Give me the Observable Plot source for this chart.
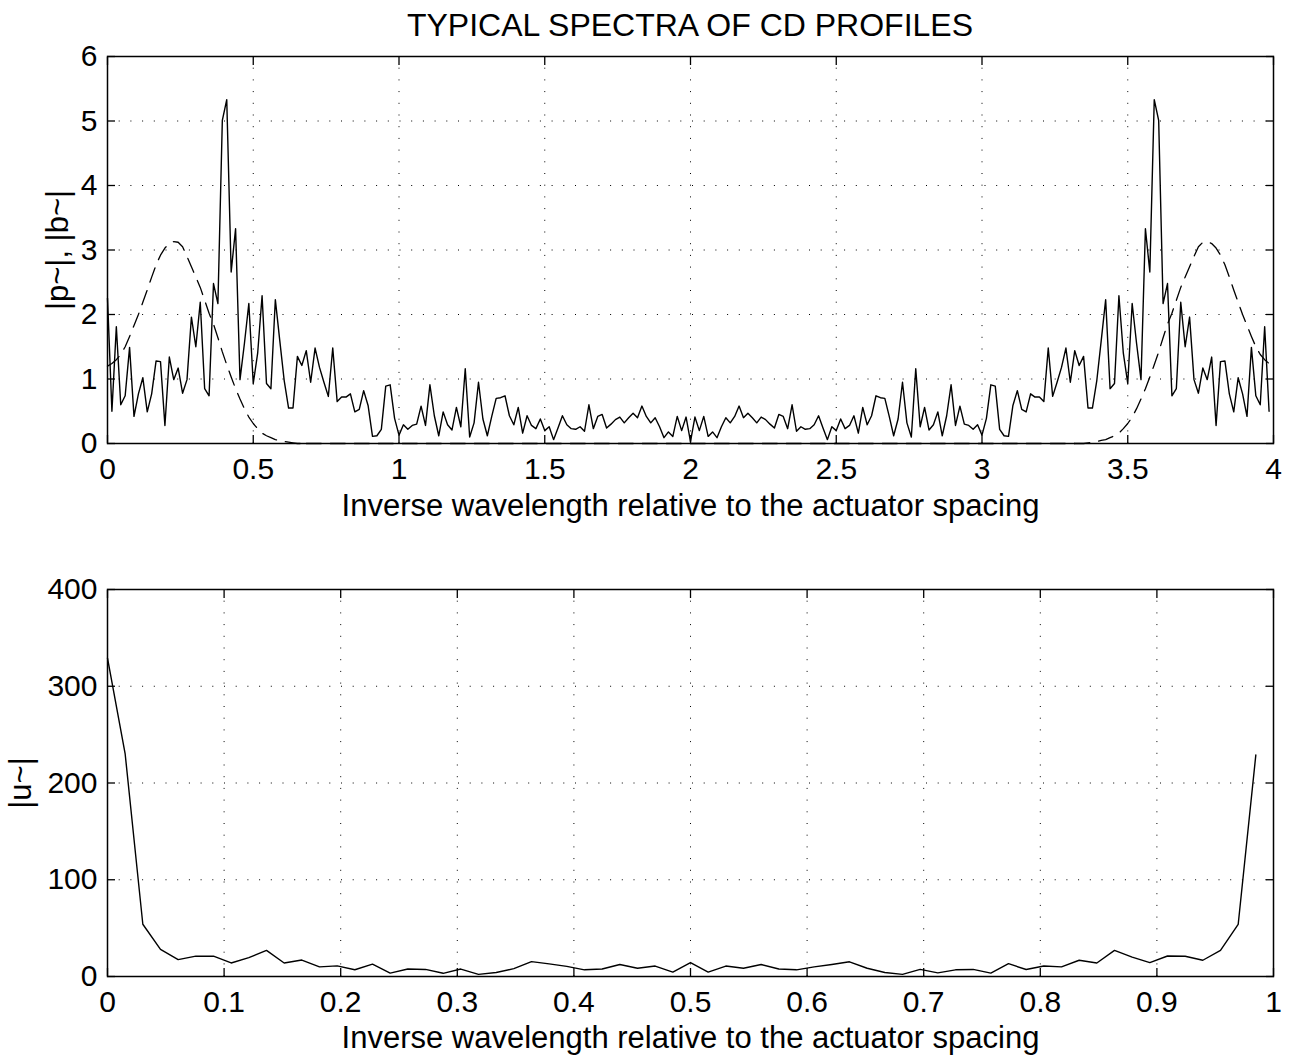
<!DOCTYPE html>
<html>
<head>
<meta charset="utf-8">
<script src="https://cdn.jsdelivr.net/npm/d3@7"></script>
<script src="https://cdn.jsdelivr.net/npm/@observablehq/plot@0.6"></script>
<style>
  html, body { margin: 0; padding: 0; background: #fff; }
  #chart { width: 1292px; height: 1057px; position: relative; background: #fff;
           font-family: "Liberation Sans", Arial, Helvetica, sans-serif; color: #000; }
  #title { height: 40px; line-height: 50px; padding-left: 107px; padding-right: 19px;
           text-align: center; font-size: 32px; white-space: nowrap; }
  svg { display: block; }
</style>
</head>
<body>
<div id="chart">
  <div id="title">TYPICAL SPECTRA OF CD PROFILES</div>
</div>
<script>
// ---- data ----
const titleText = "TYPICAL SPECTRA OF CD PROFILES";
const xLabel = "Inverse wavelength relative to the actuator spacing";
const yLabelTop = "|p~|, |b~|";
const yLabelBottom = "|u~|";

// sample spacing of the spectra (1/66 of the actuator spacing)
const freqStep = 1 / 66;

// |p~| : 264 samples, x = k * freqStep
const pSpectrum = [
 2.25,0.50,1.81,0.60,0.74,1.49,0.42,0.77,1.02,0.49,
 0.77,1.28,1.27,0.28,1.34,0.99,1.17,0.78,0.99,1.96,
 1.50,2.19,0.85,0.74,2.48,2.17,5.01,5.33,2.66,3.33,
 0.99,1.55,2.17,0.93,1.40,2.29,0.93,0.85,2.23,1.60,
 0.98,0.55,0.55,1.35,1.21,1.44,0.95,1.48,1.18,0.95,
 0.73,1.48,0.65,0.72,0.72,0.77,0.49,0.53,0.82,0.59,
 0.11,0.12,0.22,0.89,0.91,0.39,0.13,0.29,0.22,0.28,
 0.30,0.58,0.28,0.91,0.43,0.12,0.49,0.29,0.21,0.56,
 0.26,1.16,0.10,0.32,0.95,0.38,0.12,0.42,0.70,0.71,
 0.74,0.43,0.29,0.56,0.16,0.43,0.28,0.23,0.38,0.20,
 0.26,0.06,0.24,0.43,0.29,0.23,0.22,0.26,0.19,0.60,
 0.23,0.42,0.45,0.24,0.30,0.37,0.41,0.32,0.40,0.47,
 0.40,0.58,0.42,0.32,0.40,0.26,0.09,0.18,0.11,0.42,
 0.20,0.41,0.03,
 0.41,0.20,0.42,0.11,0.18,0.09,0.26,0.40,0.32,0.42,
 0.58,0.40,0.47,0.40,0.32,0.41,0.37,0.30,0.24,0.45,
 0.42,0.23,0.60,0.19,0.26,0.22,0.23,0.29,0.43,0.24,
 0.06,0.26,0.20,0.38,0.23,0.28,0.43,0.16,0.56,0.29,
 0.43,0.74,0.71,0.70,0.42,0.12,0.38,0.95,0.32,0.10,
 1.16,0.26,0.56,0.21,0.29,0.49,0.12,0.43,0.91,0.28,
 0.58,0.30,0.28,0.22,0.29,0.13,0.39,0.91,0.89,0.22,
 0.12,0.11,0.59,0.82,0.53,0.49,0.77,0.72,0.72,0.65,
 1.48,0.73,0.95,1.18,1.48,0.95,1.44,1.21,1.35,0.55,
 0.55,0.98,1.60,2.23,0.85,0.93,2.29,1.40,0.93,2.17,
 1.55,0.99,3.33,2.66,5.33,5.01,2.17,2.48,0.74,0.85,
 2.19,1.50,1.96,0.99,0.78,1.17,0.99,1.34,0.28,1.27,
 1.28,0.77,0.49,1.02,0.77,0.42,1.49,0.74,0.60,1.81,0.50
];

// |b~| (dashed): left lobe, samples k = 0..45
const bLeftStart = 0;
const bLeft = [
 1.20,1.24,1.30,1.38,1.50,1.66,1.83,2.00,2.19,2.38,
 2.58,2.77,2.92,3.03,3.10,3.13,3.12,3.05,2.90,2.74,
 2.58,2.42,2.22,2.02,1.85,1.64,1.42,1.22,1.03,0.85,
 0.69,0.54,0.41,0.31,0.23,0.16,0.12,0.09,0.06,0.05,
 0.03,0.02,0.01,0,0,0
];
// |b~| zero stretch between the lobes, samples k = 45..219
const bMidStart = 45;
const bMid = [0, 0];
const bMidEnd = 219;
// |b~| right lobe, samples k = 219..263
const bRightStart = 219;
const bRight = [
 0,0,0,0.01,0.02,0.03,0.05,0.06,0.09,0.12,
 0.16,0.23,0.31,0.41,0.54,0.69,0.85,1.03,1.22,1.42,
 1.64,1.85,2.02,2.22,2.42,2.58,2.74,2.90,3.05,3.12,
 3.13,3.10,3.03,2.92,2.77,2.58,2.38,2.19,2.00,1.83,
 1.66,1.50,1.38,1.30,1.24
];

// |u~| : 66 samples, x = k * freqStep
const uSpectrum = [
 329,230,54,28,17.5,21,21,14,19.5,27,
 14,17,10,11,7,12.8,3.5,7.7,7.3,3.3,
 7.7,2.2,4.1,8.1,15.4,13,10.5,6.9,7.7,12.4,
 8.5,10.8,4.5,14.4,4.5,10.8,8.5,12.4,7.7,6.9,
 10,12.4,15.2,8.5,4.1,2.2,7.3,3.7,6.9,7.3,
 3.5,13.3,7.2,10.9,9.9,16.8,14,27,20,14.3,
 21.2,20.9,16.8,27,53.8,229
];

// tick values
const xTicksTop = [0, 0.5, 1, 1.5, 2, 2.5, 3, 3.5, 4];
const yTicksTop = [0, 1, 2, 3, 4, 5, 6];
const xTicksBottom = [0, 0.1, 0.2, 0.3, 0.4, 0.5, 0.6, 0.7, 0.8, 0.9, 1];
const yTicksBottom = [0, 100, 200, 300, 400];

// ---- build tables ----
const pTable = pSpectrum.map((v, k) => ({x: k * freqStep, y: v}));
const bLeftTable = bLeft.map((v, i) => ({x: (bLeftStart + i) * freqStep, y: v}));
const bMidTable = [{x: bMidStart * freqStep, y: bMid[0]}, {x: bMidEnd * freqStep, y: bMid[1]}];
const bRightTable = bRight.map((v, i) => ({x: (bRightStart + i) * freqStep, y: v}));
const uTable = uSpectrum.map((v, k) => ({x: k * freqStep, y: v}));

const fmt = d => d3.format("~g")(d);
const FONT = "'Liberation Sans', Arial, Helvetica, sans-serif";
const gridStyle = {stroke: "black", strokeOpacity: 1, strokeWidth: 1, strokeDasharray: "1,10.7"};

function frameAxes(xTicks, yTicks, xLab, yLab, xLabOff, yLabOff) {
  return [
    Plot.gridX(xTicks, gridStyle),
    Plot.gridY(yTicks, gridStyle),
    // inward ticks on all four sides
    Plot.axisX(xTicks, {anchor: "bottom", tickSize: -8, fill: "none", label: null, strokeWidth: 1.3}),
    Plot.axisX(xTicks, {anchor: "top", tickSize: -8, fill: "none", label: null, strokeWidth: 1.3}),
    Plot.axisY(yTicks, {anchor: "left", tickSize: -8, fill: "none", label: null, strokeWidth: 1.3}),
    Plot.axisY(yTicks, {anchor: "right", tickSize: -8, fill: "none", label: null, strokeWidth: 1.3}),
    // tick labels
    Plot.axisX(xTicks, {anchor: "bottom", tickSize: 0, tickPadding: 14, tickFormat: fmt, label: null, fontSize: 30}),
    Plot.axisY(yTicks, {anchor: "left", tickSize: 0, tickPadding: 10, tickFormat: fmt, label: null, fontSize: 30}),
    // axis titles (tick text suppressed)
    Plot.axisX(xTicks, {anchor: "bottom", tickSize: 0, tickFormat: () => "", fontSize: 31,
      label: xLab, labelAnchor: "center", labelOffset: xLabOff, labelArrow: "none"}),
    Plot.axisY(yTicks, {anchor: "left", tickSize: 0, tickFormat: () => "", fontSize: 31,
      label: yLab, labelAnchor: "center", labelOffset: yLabOff, labelArrow: "none"}),
  ];
}

const styleObj = {fontFamily: FONT, fontSize: "31px", color: "black", background: "white", overflow: "visible"};

const topPlot = Plot.plot({
  width: 1292, height: 500,
  marginLeft: 107, marginRight: 19, marginTop: 16, marginBottom: 97,
  style: styleObj,
  x: {domain: [0, 4]},
  y: {domain: [0, 6]},
  marks: [
    ...frameAxes(xTicksTop, yTicksTop, xLabel, yLabelTop, 72, 62),
    Plot.line(bLeftTable, {x: "x", y: "y", stroke: "black", strokeWidth: 1.3, strokeDasharray: "15,9"}),
    Plot.line(bMidTable, {x: "x", y: "y", stroke: "black", strokeWidth: 1.3, strokeDasharray: "15,9"}),
    Plot.line(bRightTable, {x: "x", y: "y", stroke: "black", strokeWidth: 1.3, strokeDasharray: "15,9"}),
    Plot.line(pTable, {x: "x", y: "y", stroke: "black", strokeWidth: 1.4}),
    Plot.frame({stroke: "black", strokeWidth: 1.5})
  ]
});

const bottomPlot = Plot.plot({
  width: 1292, height: 517,
  marginLeft: 107, marginRight: 19, marginTop: 49, marginBottom: 81,
  style: styleObj,
  x: {domain: [0, 1]},
  y: {domain: [0, 400]},
  marks: [
    ...frameAxes(xTicksBottom, yTicksBottom, xLabel, yLabelBottom, 71, 99),
    Plot.line(uTable, {x: "x", y: "y", stroke: "black", strokeWidth: 1.4}),
    Plot.frame({stroke: "black", strokeWidth: 1.5})
  ]
});

const chart = document.getElementById("chart");
chart.appendChild(topPlot);
chart.appendChild(bottomPlot);
</script>
</body>
</html>
